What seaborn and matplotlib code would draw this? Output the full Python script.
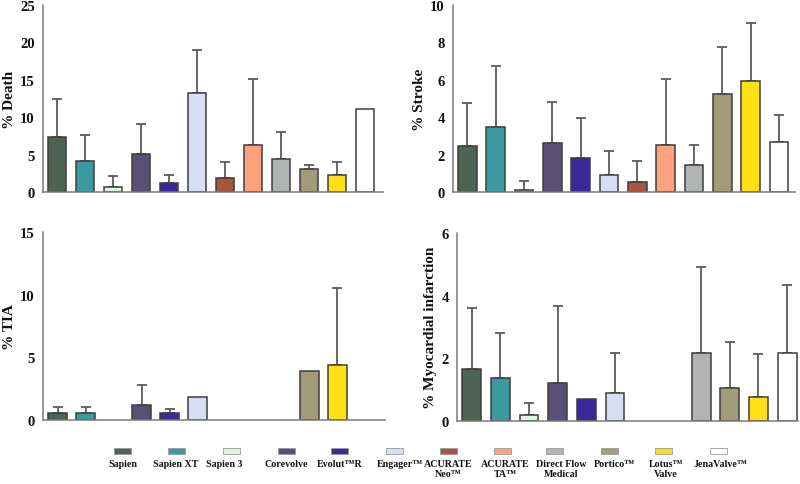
import numpy as np
import pandas as pd
import matplotlib
matplotlib.use("Agg")
import matplotlib.pyplot as plt
from matplotlib.patches import Rectangle
import seaborn as sns

sns.set_style("white")
plt.rcParams['font.family'] = ['Liberation Serif', 'DejaVu Serif']
plt.rcParams['font.weight'] = 'bold'

devices = ["Sapien", "Sapien XT", "Sapien 3", "Corevolve", "Evolut™R", "Engager™",
           "ACURATE Neo™", "ACURATE TA™", "Direct Flow Medical", "Portico™",
           "Lotus™ Valve", "JenaValve™"]
legend_labels = ["Sapien", "Sapien XT", "Sapien 3", "Corevolve", "Evolut™R", "Engager™",
                 "ACURATE\nNeo™", "ACURATE\nTA™", "Direct Flow\nMedical", "Portico™",
                 "Lotus™\nValve", "JenaValve™"]
colors = ["#4f6354", "#3a9aa0", "#e0f5e0", "#5a4f75", "#3a2a9a", "#d5def2",
          "#a85540", "#ffa07f", "#b0b2b3", "#a39a7a", "#ffe014", "#ffffff"]

nan = np.nan
death = [7.34, 4.09, 0.67, 5.03, 1.2, 13.26, 1.82, 6.27, 4.4, 3.07, 2.27, 11.03]
death_err = [5.12, 3.47, 1.42, 4.0, 1.1, 5.78, 2.14, 8.81, 3.6, 0.58, 1.78, 0]

stroke = [2.44, 3.5, 0.12, 2.63, 1.81, 0.89, 0.55, 2.53, 1.42, 5.25, 5.96, 2.7]
stroke_err = [2.31, 3.23, 0.45, 2.16, 2.14, 1.3, 1.1, 3.52, 1.12, 2.49, 3.08, 1.43]

tia = [0.56, 0.53, nan, 1.2, 0.59, 1.81, nan, nan, nan, 3.91, 4.36, nan]
tia_err = [0.45, 0.53, 0, 1.57, 0.31, 0, 0, 0, 0, 0, 6.14, 0]

mi = [1.65, 1.36, 0.18, 1.2, 0.7, 0.9, nan, nan, 2.17, 1.04, 0.78, 2.16]
mi_err = [1.97, 1.44, 0.41, 2.48, 0, 1.27, 0, 0, 2.74, 1.49, 1.36, 2.19]

W, H = 800, 485
fig = plt.figure(figsize=(8, 4.85), dpi=100)

def rect(x0, x1, ytop, ybot):
    return [x0 / W, 1 - ybot / H, (x1 - x0) / W, (ybot - ytop) / H]

panels = [
    (death, death_err, "% Death", 25, 5, rect(43, 383, 6, 193), (-0.5, 11.64)),
    (stroke, stroke_err, "% Stroke", 10, 2, rect(453, 795, 6, 193), (-0.51, 11.57)),
    (tia, tia_err, "% TIA", 15, 5, rect(43, 385, 233, 421), (-0.52, 11.7)),
    (mi, mi_err, "% Myocardial infarction", 6, 2, rect(457, 798, 234, 422), (-0.51, 11.38)),
]

spine_col = "#7a7a7a"
for vals, errs, ylabel, ymax, ystep, r, xl in panels:
    ax = fig.add_axes(r)
    df = pd.DataFrame({"device": devices, "value": vals})
    sns.barplot(data=df, x="device", y="value", hue="device", order=devices,
                hue_order=devices, palette=colors, saturation=1, dodge=False,
                legend=False, width=0.66, errorbar=None, ax=ax, zorder=2)
    for p in ax.patches:
        p.set_edgecolor("#3d3d3d")
        p.set_linewidth(1.1)
    xs = np.arange(len(devices))
    v = np.array(vals, dtype=float)
    e = np.array(errs, dtype=float)
    m = (e > 0) & ~np.isnan(v)
    ax.errorbar(xs[m], v[m], yerr=[np.zeros(m.sum()), e[m]], fmt="none",
                ecolor="#5a5a5a", elinewidth=1.3, capsize=3.6, capthick=1.3, zorder=1)
    ax.set_xlim(*xl)
    ax.set_ylim(0, ymax)
    ticks = np.arange(0, ymax + 0.01, ystep)
    ax.set_yticks(ticks)
    ax.set_yticklabels([str(int(t)) for t in ticks],
                       fontsize=10.5, fontweight="bold", color="#111111")
    ax.set_xticks([5.5])
    ax.set_xticklabels([""])
    ax.set_xlabel("")
    ax.set_ylabel(ylabel, fontsize=11, fontweight="bold", color="#111111", labelpad=3)
    for s in ["top", "right"]:
        ax.spines[s].set_visible(False)
    for s in ["left", "bottom"]:
        ax.spines[s].set_color(spine_col)
        ax.spines[s].set_linewidth(1.1)
    ax.tick_params(axis="y", direction="out", length=4, width=1, color=spine_col, pad=2)
    ax.tick_params(axis="x", direction="out", length=5, width=1, color=spine_col)
    ax.patch.set_alpha(0)

# legend drawn beneath the panels
lax = fig.add_axes([0, 0, 1, 1])
lax.set_xlim(0, W)
lax.set_ylim(H, 0)
lax.axis("off")
patch_x = [122.5, 176, 231, 286, 339.5, 394.5, 448, 502, 554.5, 609.5, 663.5, 718.5]
text_x = [123, 175.5, 224.5, 286, 339.5, 400, 448, 505, 561, 614, 666, 720]
for px, tx, lab, col in zip(patch_x, text_x, legend_labels, colors):
    lax.add_patch(Rectangle((px - 8.5, 448.5), 17, 6.5, facecolor=col,
                            edgecolor="#9a9a9a", linewidth=0.6))
    lax.text(tx, 460, lab, ha="center", va="top", fontsize=7.2, fontweight="bold",
             color="#111111", linespacing=1.1)

fig.savefig("out.png", dpi=100)
